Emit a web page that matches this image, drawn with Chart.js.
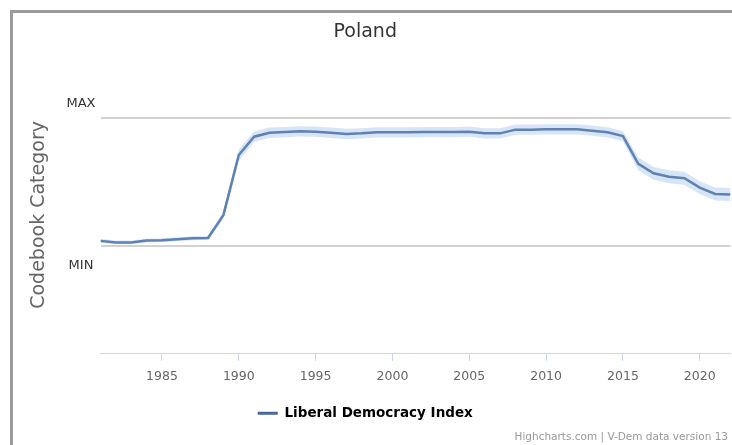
<!DOCTYPE html>
<html>
<head>
<meta charset="utf-8">
<script src="https://cdn.jsdelivr.net/npm/chart.js@4/dist/chart.umd.min.js"></script>
<style>
  html, body { margin: 0; padding: 0; background: #fff; }
  #wrap { position: relative; width: 732px; height: 445px; }
  canvas { display: block; }
</style>
</head>
<body>
<div id="wrap"><canvas id="c" width="732" height="445"></canvas></div>
<script>
// ---- data ----
const chartTitle = 'Poland';
const seriesName = 'Liberal Democracy Index';
const yAxisTitle = 'Codebook Category';
const credits = 'Highcharts.com | V-Dem data version 13';
const years = [1981,1982,1983,1984,1985,1986,1987,1988,1989,1990,
               1991,1992,1993,1994,1995,1996,1997,1998,1999,2000,
               2001,2002,2003,2004,2005,2006,2007,2008,2009,2010,
               2011,2012,2013,2014,2015,2016,2017,2018,2019,2020,
               2021,2022];
const ldi = [0.043,0.031,0.031,0.045,0.048,0.056,0.063,0.066,0.243,0.709,
             0.851,0.882,0.887,0.893,0.890,0.882,0.872,0.877,0.885,0.885,
             0.885,0.887,0.887,0.887,0.890,0.877,0.877,0.906,0.906,0.908,
             0.908,0.908,0.898,0.885,0.856,0.640,0.567,0.540,0.529,0.456,
             0.407,0.403];
const ldiUpper = [0.058,0.046,0.046,0.060,0.063,0.071,0.078,0.081,0.273,0.754,
                  0.891,0.922,0.927,0.933,0.930,0.922,0.912,0.917,0.925,0.925,
                  0.925,0.927,0.927,0.927,0.930,0.917,0.917,0.946,0.946,0.948,
                  0.948,0.948,0.938,0.925,0.896,0.690,0.617,0.590,0.579,0.506,
                  0.457,0.453];
const ldiLower = [0.028,0.016,0.016,0.030,0.033,0.041,0.048,0.051,0.213,0.664,
                  0.811,0.842,0.847,0.853,0.850,0.842,0.832,0.837,0.845,0.845,
                  0.845,0.847,0.847,0.847,0.850,0.837,0.837,0.866,0.866,0.868,
                  0.868,0.868,0.858,0.845,0.816,0.590,0.517,0.490,0.479,0.406,
                  0.357,0.353];
const xTickYears = [1985,1990,1995,2000,2005,2010,2015,2020];
const yTickValues = [0, 1];
const yTickLabels = ['MIN', 'MAX'];

// ---- styles ----
const lineColor = '#46699a';
const bandColor = 'rgba(140,178,228,0.34)';
const gridColor = '#d2d2d2';
const axisColor = '#ccd6eb';

Chart.defaults.font.family = '"DejaVu Sans", sans-serif';

const pts = arr => years.map((y, i) => ({x: y, y: arr[i]}));

const decor = {
  id: 'decor',
  beforeDraw(chart) {
    const ctx = chart.ctx;
    ctx.save();
    ctx.fillStyle = '#fff';
    ctx.fillRect(0, 0, chart.width, chart.height);
    ctx.fillStyle = '#9a9a9a';
    ctx.fillRect(10, 10, 3, chart.height - 10);
    ctx.fillRect(10, 10, chart.width - 10, 3);
    ctx.restore();
  },
  afterDraw(chart) {
    const ctx = chart.ctx;
    const ys = chart.scales.y;
    ctx.save();
    ctx.font = '13px "DejaVu Sans", sans-serif';
    ctx.fillStyle = '#333';
    ctx.textAlign = 'center';
    ctx.textBaseline = 'middle';
    yTickValues.forEach((v, i) => {
      const py = ys.getPixelForValue(v);
      const off = v === 1 ? -13.5 : 19;
      ctx.fillText(yTickLabels[i], 81, py + off);
    });
    ctx.font = '10.5px "DejaVu Sans", sans-serif';
    ctx.fillStyle = '#999';
    ctx.textAlign = 'right';
    ctx.fillText(credits, 728, 437);
    ctx.restore();
  }
};

new Chart(document.getElementById('c'), {
  type: 'line',
  data: {
    datasets: [
      { label: 'upper', data: pts(ldiUpper), borderWidth: 0, pointRadius: 0,
        backgroundColor: bandColor, fill: '+1' },
      { label: 'lower', data: pts(ldiLower), borderWidth: 0, pointRadius: 0,
        backgroundColor: bandColor, fill: false },
      { label: seriesName, data: pts(ldi), borderColor: lineColor, backgroundColor: lineColor,
        borderWidth: 2.5, pointRadius: 0, fill: false, tension: 0 }
    ]
  },
  options: {
    responsive: false,
    animation: false,
    events: [],
    layout: { padding: { top: 12, left: 0, right: 1.5, bottom: 15 } },
    plugins: {
      title: {
        display: true, text: chartTitle, color: '#333',
        font: { size: 19, weight: 'normal' },
        padding: { top: 9, bottom: 32.2 }
      },
      legend: {
        display: true, position: 'bottom',
        labels: {
          color: '#333',
          font: { size: 13.5, weight: 'bold' },
          boxWidth: 20, boxHeight: 3,
          generateLabels: () => [{ text: seriesName, fillStyle: lineColor, strokeStyle: lineColor,
                                   lineWidth: 0, hidden: false, datasetIndex: 2 }]
        }
      },
      tooltip: { enabled: false }
    },
    scales: {
      x: {
        type: 'linear', min: years[0], max: years[years.length - 1],
        afterBuildTicks: s => { s.ticks = xTickYears.map(v => ({ value: v })); },
        afterFit: s => { s.height = 42.7; },
        grid: { drawOnChartArea: false, drawTicks: true, tickLength: 7, color: axisColor, lineWidth: 1 },
        border: { display: true, color: axisColor, width: 1 },
        ticks: { color: '#666', font: { size: 12.5 }, padding: 8, callback: v => String(v), maxRotation: 0 }
      },
      y: {
        type: 'linear', min: -0.833, max: 1.322,
        afterBuildTicks: s => { s.ticks = yTickValues.map(v => ({ value: v })); },
        afterFit: s => { s.width = 100.5; },
        grid: { color: gridColor, lineWidth: 2, drawTicks: false },
        border: { display: false },
        ticks: { display: false },
        title: { display: true, text: yAxisTitle, color: '#666', font: { size: 19 }, padding: { top: 28 } }
      }
    }
  },
  plugins: [decor]
});
</script>
</body>
</html>
